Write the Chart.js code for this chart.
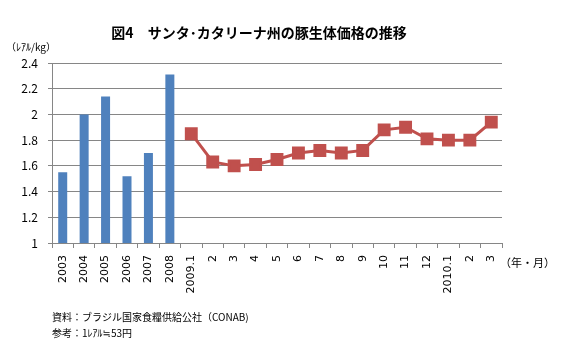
<!DOCTYPE html>
<html>
<head>
<meta charset="utf-8">
<script src="https://cdn.jsdelivr.net/npm/chart.js@4"></script>
<style>
  html, body { margin: 0; padding: 0; background: #fff; }
  #wrap { width: 561px; height: 351px; position: relative; }
</style>
</head>
<body>
<div id="wrap"><canvas id="chart" width="561" height="351"></canvas></div>
<script>
// categories: yearly averages then monthly values
const labels = ['2003', '2004', '2005', '2006', '2007', '2008',
    '2009.1', '2', '3', '4', '5', '6', '7', '8', '9', '10', '11', '12',
    '2010.1', '2', '3'];
const yearlyPrices = [1.55, 2.00, 2.14, 1.52, 1.70, 2.31];
const monthlyPrices = [1.85, 1.63, 1.60, 1.61, 1.65, 1.70, 1.72, 1.70, 1.72, 1.88, 1.90, 1.81, 1.80, 1.80, 1.94];
const yTicks = [1, 1.2, 1.4, 1.6, 1.8, 2, 2.2, 2.4];

const barData = yearlyPrices.concat(monthlyPrices.map(() => null));
const lineData = yearlyPrices.map(() => null).concat(monthlyPrices);

const FONT = '"Noto Sans CJK JP", "DejaVu Sans", sans-serif';

// extra text: title, unit, axis note, source
const textPlugin = {
    id: 'texts',
    afterDraw(chart) {
        const ctx = chart.ctx;
        ctx.save();
        ctx.fillStyle = '#000';
        ctx.textBaseline = 'middle';
        ctx.textAlign = 'center';
        ctx.font = 'bold 14px ' + FONT;
        ctx.fillText('図4　サンタ･カタリーナ州の豚生体価格の推移', 259, 33);
        ctx.textAlign = 'left';
        ctx.font = '10px ' + FONT;
        ctx.fillText('（ﾚｱﾙ/kg）', 6, 47);
        ctx.font = '11px ' + FONT;
        ctx.fillText('（年・月）', 500, 263);
        ctx.font = '10px ' + FONT;
        ctx.fillText('資料：ブラジル国家食糧供給公社（CONAB)', 52, 317);
        ctx.fillText('参考：1ﾚｱﾙ≒53円', 52, 333);
        ctx.restore();
    }
};

new Chart(document.getElementById('chart'), {
    type: 'bar',
    data: {
        labels: labels,
        datasets: [{
            type: 'bar',
            data: barData,
            backgroundColor: '#4F81BD',
            barPercentage: 0.42,
            categoryPercentage: 1
        }, {
            type: 'line',
            data: lineData,
            borderColor: '#C0504D',
            backgroundColor: '#C0504D',
            borderWidth: 3,
            pointStyle: 'rect',
            pointRadius: 7,
            pointHoverRadius: 7,
            tension: 0
        }]
    },
    options: {
        responsive: false,
        animation: false,
        layout: { padding: { left: 0, right: 59, top: 63, bottom: 0 } },
        plugins: { legend: { display: false }, tooltip: { enabled: false } },
        scales: {
            x: {
                offset: true,
                afterFit: scale => { scale.height = 108; },
                grid: { offset: true, drawOnChartArea: false, tickLength: 5, color: '#868686' },
                border: { color: '#868686' },
                ticks: {
                    autoSkip: false, maxRotation: 90, minRotation: 90, padding: 7,
                    color: '#000', font: { family: '"DejaVu Sans", sans-serif', size: 11 }
                }
            },
            y: {
                min: 1, max: 2.4,
                afterFit: scale => { scale.width = 52; },
                afterBuildTicks: scale => { scale.ticks = yTicks.map(v => ({ value: v })); },
                grid: { color: '#868686', tickLength: 4 },
                border: { color: '#868686' },
                ticks: {
                    padding: 10, color: '#000',
                    font: { family: FONT, size: 12 },
                    callback: v => String(Math.round(v * 10) / 10)
                }
            }
        }
    },
    plugins: [textPlugin]
});
</script>
</body>
</html>
